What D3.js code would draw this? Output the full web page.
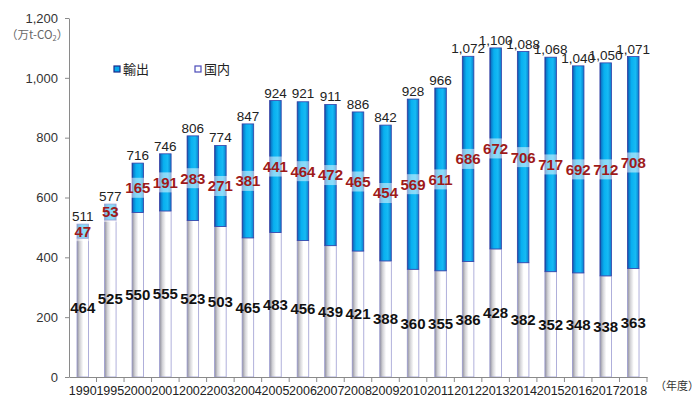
<!DOCTYPE html>
<html>
<head>
<meta charset="utf-8">
<script src="https://cdn.jsdelivr.net/npm/d3@7"></script>
<style>
  body { margin: 0; background: #fff; }
  svg { display: block; }
</style>
</head>
<body>
<svg id="chart" width="699" height="401"></svg>
<script>
// data (万t-CO2)
var years = ['1990', '1995', '2000', '2001', '2002', '2003', '2004', '2005', '2006', '2007', '2008',
  '2009', '2010', '2011', '2012', '2013', '2014', '2015', '2016', '2017', '2018'];
var domestic = [464, 525, 550, 555, 523, 503, 465, 483, 456, 439, 421, 388, 360, 355, 386, 428, 382, 352, 348, 338, 363];
var exportVals = [47, 53, 165, 191, 283, 271, 381, 441, 464, 472, 465, 454, 569, 611, 686, 672, 706, 717, 692, 712, 708];
var totals = [511, 577, 716, 746, 806, 774, 847, 924, 921, 911, 886, 842, 928, 966, 1072, 1100, 1088, 1068, 1040, 1050, 1071];
var yTicks = [0, 200, 400, 600, 800, 1000, 1200];

var svg = d3.select('#chart');
var plotLeft = 69, plotRight = 647, plotTop = 18, plotBottom = 377;

var x = d3.scaleBand().domain(years).range([plotLeft, plotRight]).padding(0);
var y = d3.scaleLinear().domain([0, 1200]).range([plotBottom, plotTop]);
var barW = x.bandwidth() * 0.42;
var fmt = d3.format(',');

// gradients for the bars
var defs = svg.append('defs');
var gExp = defs.append('linearGradient').attr('id', 'gExp');
[['0%', '#0a3a8a'], ['12%', '#0b7ccb'], ['35%', '#08b0f0'], ['70%', '#16baf4'], ['100%', '#0a7cca']]
  .forEach(function(s) { gExp.append('stop').attr('offset', s[0]).attr('stop-color', s[1]); });
var gDom = defs.append('linearGradient').attr('id', 'gDom');
[['0%', '#8e8e9a'], ['25%', '#d2d2d6'], ['55%', '#ffffff'], ['100%', '#ffffff']]
  .forEach(function(s) { gDom.append('stop').attr('offset', s[0]).attr('stop-color', s[1]); });

var rows = years.map(function(yr, i) {
  return { year: yr, dom: domestic[i], exp: exportVals[i], total: totals[i] };
});

function barX(d) { return x(d.year) + (x.bandwidth() - barW) / 2; }
function cx(d) { return x(d.year) + x.bandwidth() / 2; }

// domestic bars
svg.append('g').selectAll('rect').data(rows).enter().append('rect')
  .attr('x', barX)
  .attr('y', function(d) { return y(d.dom); })
  .attr('width', barW)
  .attr('height', function(d) { return y(0) - y(d.dom); })
  .attr('fill', 'url(#gDom)')
  .attr('stroke', '#9c9cd2')
  .attr('stroke-width', 0.8);

// export bars
svg.append('g').selectAll('rect').data(rows).enter().append('rect')
  .attr('x', barX)
  .attr('y', function(d) { return y(d.dom + d.exp); })
  .attr('width', barW)
  .attr('height', function(d) { return y(d.dom) - y(d.dom + d.exp); })
  .attr('fill', 'url(#gExp)')
  .attr('stroke', '#3440a8')
  .attr('stroke-width', 0.8);

// axes
var yAxis = svg.append('g')
  .attr('transform', 'translate(' + plotLeft + ',0)')
  .call(d3.axisLeft(y).tickValues(yTicks).tickFormat(fmt).tickSize(4).tickPadding(7).tickSizeOuter(0));
yAxis.select('.domain').attr('stroke', '#8a8a8a');
yAxis.selectAll('line').attr('stroke', '#8a8a8a');
yAxis.selectAll('text')
  .attr('font-family', 'Liberation Sans, Arial, sans-serif')
  .attr('font-size', 13)
  .attr('fill', '#333');

var xAxis = svg.append('g')
  .attr('transform', 'translate(0,' + plotBottom + ')')
  .call(d3.axisBottom(x).tickSize(0).tickPadding(9).tickSizeOuter(0));
xAxis.select('.domain').attr('stroke', '#8a8a8a');
xAxis.selectAll('text')
  .attr('font-family', 'Liberation Sans, Arial, sans-serif')
  .attr('font-size', 12.5)
  .attr('fill', '#222');
// tick marks on band boundaries
xAxis.selectAll('.sep').data(years.slice(1).concat(['end'])).enter().append('line')
  .attr('x1', function(d) { return d === 'end' ? plotRight : x(d); })
  .attr('x2', function(d) { return d === 'end' ? plotRight : x(d); })
  .attr('y1', 0).attr('y2', 5)
  .attr('stroke', '#8a8a8a');

svg.append('text')
  .attr('x', 655).attr('y', 390)
  .attr('font-family', 'Noto Sans CJK JP, sans-serif')
  .attr('font-size', 11)
  .attr('fill', '#333')
  .text('（年度）');

// unit label
var unit = svg.append('text')
  .attr('x', 6).attr('y', 39)
  .attr('font-family', 'Noto Sans CJK JP, sans-serif')
  .attr('font-size', 11.5)
  .attr('fill', '#666');
unit.append('tspan').text('（万t-CO');
unit.append('tspan').attr('font-size', 7.5).attr('dy', 2).text('2');
unit.append('tspan').attr('dy', -2).text('）');

// export value labels with translucent box
var expLab = svg.append('g').selectAll('g').data(rows).enter().append('g')
  .attr('transform', function(d) { return 'translate(' + cx(d) + ',' + y(d.dom + d.exp / 2) + ')'; });
expLab.append('rect')
  .attr('x', -barW / 2 - 1).attr('y', -10)
  .attr('width', barW + 2).attr('height', 20)
  .attr('fill', '#fff').attr('fill-opacity', 0.5);
expLab.append('text')
  .attr('text-anchor', 'middle')
  .attr('dy', '0.36em')
  .attr('font-family', 'Liberation Sans, Arial, sans-serif')
  .attr('font-weight', 'bold')
  .attr('font-size', 15)
  .attr('fill', '#9e1a1a')
  .text(function(d) { return d.exp; });

// domestic value labels
svg.append('g').selectAll('text').data(rows).enter().append('text')
  .attr('x', cx)
  .attr('y', function(d) { return y(d.dom / 2); })
  .attr('text-anchor', 'middle')
  .attr('dy', '0.36em')
  .attr('font-family', 'Liberation Sans, Arial, sans-serif')
  .attr('font-weight', 'bold')
  .attr('font-size', 15)
  .attr('fill', '#111')
  .text(function(d) { return d.dom; });

// total labels above the bars
svg.append('g').selectAll('text').data(rows).enter().append('text')
  .attr('x', cx)
  .attr('y', function(d) { return y(d.total) - 3; })
  .attr('text-anchor', 'middle')
  .attr('font-family', 'Liberation Sans, Arial, sans-serif')
  .attr('font-size', 13.5)
  .attr('fill', '#222')
  .text(function(d) { return fmt(d.total); });

// legend
var legend = [
  { name: '輸出', fill: '#06a8ec', stroke: '#1a2a8a', x: 114 },
  { name: '国内', fill: '#ffffff', stroke: '#4a4ab8', x: 195 }
];
var lg = svg.append('g').selectAll('g').data(legend).enter().append('g')
  .attr('transform', function(d) { return 'translate(' + d.x + ',66)'; });
lg.append('rect')
  .attr('width', 6).attr('height', 6)
  .attr('fill', function(d) { return d.fill; })
  .attr('stroke', function(d) { return d.stroke; })
  .attr('stroke-width', 1.2);
lg.append('text')
  .attr('x', 9).attr('y', 3)
  .attr('dy', '0.36em')
  .attr('font-family', 'Noto Sans CJK JP, sans-serif')
  .attr('font-size', 13)
  .attr('fill', '#222')
  .text(function(d) { return d.name; });
</script>
</body>
</html>
